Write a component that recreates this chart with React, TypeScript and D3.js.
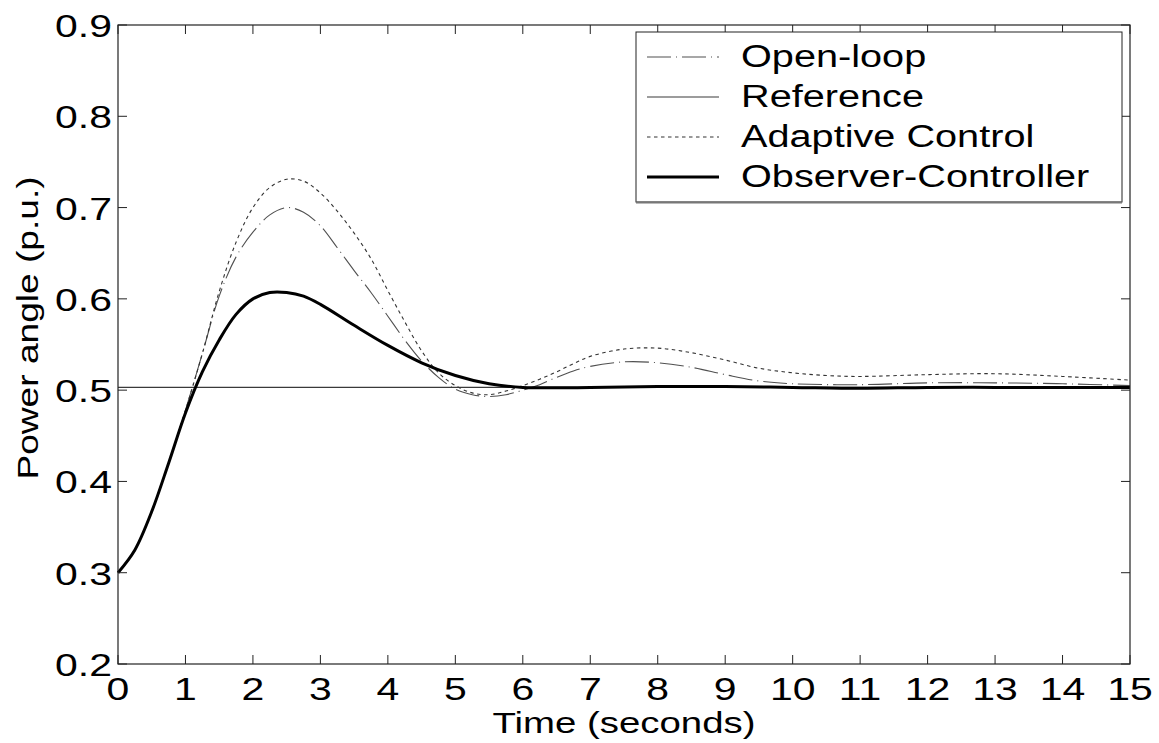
import React from "react";
import * as d3 from "d3";

const xTicks = [0, 1, 2, 3, 4, 5, 6, 7, 8, 9, 10, 11, 12, 13, 14, 15];
const yTicks = [0.2, 0.3, 0.4, 0.5, 0.6, 0.7, 0.8, 0.9];
const yTickLabels = ["0.2", "0.3", "0.4", "0.5", "0.6", "0.7", "0.8", "0.9"];

const obsT = [0, 0.25, 0.5, 0.75, 1.0, 1.25, 1.5, 1.75, 2.0, 2.25, 2.5, 2.75, 3.0, 3.5, 4.0, 4.5, 5.0, 5.5, 6.0, 7, 8, 9, 10, 11, 12, 13, 14, 15];
const obsV = [0.3, 0.325, 0.367, 0.42, 0.475, 0.52, 0.555, 0.583, 0.6, 0.607, 0.607, 0.603, 0.594, 0.571, 0.549, 0.53, 0.516, 0.507, 0.503, 0.503, 0.504, 0.504, 0.503, 0.502, 0.503, 0.503, 0.503, 0.503];

const openT = [0, 0.25, 0.5, 0.75, 1.0, 1.25, 1.5, 1.75, 2.0, 2.25, 2.5, 2.75, 3.0, 3.25, 3.5, 3.75, 4.0, 4.25, 4.5, 4.75, 5.0, 5.25, 5.5, 5.75, 6.0, 6.25, 6.5, 6.75, 7.0, 7.5, 8.0, 8.5, 9.0, 9.5, 10, 11, 12, 13, 14, 15];
const openV = [0.3, 0.325, 0.367, 0.42, 0.478, 0.54, 0.603, 0.646, 0.673, 0.692, 0.7, 0.695, 0.68, 0.656, 0.631, 0.607, 0.581, 0.555, 0.532, 0.514, 0.501, 0.495, 0.493, 0.495, 0.5, 0.506, 0.514, 0.521, 0.526, 0.531, 0.53, 0.525, 0.517, 0.51, 0.507, 0.506, 0.508, 0.508, 0.507, 0.505];

const adaptT = [0, 0.25, 0.5, 0.75, 1.0, 1.25, 1.5, 1.75, 2.0, 2.25, 2.5, 2.75, 3.0, 3.25, 3.5, 3.75, 4.0, 4.25, 4.5, 4.75, 5.0, 5.25, 5.5, 5.75, 6.0, 6.25, 6.5, 6.75, 7.0, 7.5, 8.0, 8.5, 9.0, 9.5, 10, 10.5, 11, 12, 13, 14, 15];
const adaptV = [0.3, 0.325, 0.367, 0.42, 0.478, 0.54, 0.608, 0.662, 0.7, 0.722, 0.731, 0.729, 0.716, 0.696, 0.672, 0.644, 0.609, 0.575, 0.543, 0.519, 0.505, 0.497, 0.495, 0.499, 0.505, 0.512, 0.52, 0.529, 0.537, 0.545, 0.546, 0.541, 0.533, 0.524, 0.519, 0.516, 0.515, 0.517, 0.518, 0.515, 0.511];

const refT = [0, 15];
const refV = [0.503, 0.503];

const legendLabels = ["Open-loop", "Reference", "Adaptive Control", "Observer-Controller"];

const W = 1159;
const H = 743;
const L = 118, R = 1130, T = 25, B = 664;
const SX = 1.28;
const FONT = "'Liberation Sans', Arial, Helvetica, sans-serif";

export default function App() {
  const x = d3.scaleLinear().domain([0, 15]).range([L, R]);
  const y = d3.scaleLinear().domain([0.2, 0.9]).range([B, T]);
  const mk = (ts: number[], vs: number[]) =>
    d3.line<number>().x((_, i) => x(ts[i])).y((v) => y(v)).curve(d3.curveCatmullRom.alpha(0.5))(vs) || "";

  const styles = [
    { stroke: "#505050", width: 1.1, dash: "24 5 1 5" },
    { stroke: "#3a3a3a", width: 1.1, dash: "" },
    { stroke: "#333", width: 1.1, dash: "3.5 3.5" },
    { stroke: "#000", width: 3, dash: "" },
  ];
  const series = [
    { t: openT, v: openV },
    { t: refT, v: refV },
    { t: adaptT, v: adaptV },
    { t: obsT, v: obsV },
  ];
  const tickLen = 9;
  const legBase = [67, 107, 147, 187];

  return (
    <svg width={W} height={H} style={{ position: "absolute", left: 0, top: 0, background: "#fff" }}>
      <rect x={0} y={0} width={W} height={H} fill="#fff" />
      {series.map((s, i) => (
        <path key={i} d={mk(s.t, s.v)} fill="none" stroke={styles[i].stroke}
          strokeWidth={styles[i].width} strokeDasharray={styles[i].dash || undefined} />
      ))}
      <rect x={L} y={T} width={R - L} height={B - T} fill="none" stroke="#222" strokeWidth={1.2} />
      {xTicks.map((t) => (
        <g key={"xt" + t}>
          <line x1={x(t)} x2={x(t)} y1={B} y2={B - tickLen} stroke="#222" />
          <line x1={x(t)} x2={x(t)} y1={T} y2={T + tickLen} stroke="#222" />
          <text transform={`translate(${x(t)},700) scale(${SX},1)`} textAnchor="middle"
            fontFamily={FONT} fontSize={32} fill="#000">{String(t)}</text>
        </g>
      ))}
      {yTicks.map((v, i) => (
        <g key={"yt" + v}>
          <line x1={L} x2={L + tickLen} y1={y(v)} y2={y(v)} stroke="#222" />
          <line x1={R} x2={R - tickLen} y1={y(v)} y2={y(v)} stroke="#222" />
          <text transform={`translate(112,${y(v) + 12}) scale(${SX},1)`} textAnchor="end"
            fontFamily={FONT} fontSize={32} fill="#000">{yTickLabels[i]}</text>
        </g>
      ))}
      <text transform={`translate(624,733) scale(${SX},1)`} textAnchor="middle"
        fontFamily={FONT} fontSize={30} fill="#000">Time (seconds)</text>
      <text transform={`translate(38,328) rotate(-90) scale(${SX},1)`} textAnchor="middle"
        fontFamily={FONT} fontSize={29} fill="#000">Power angle (p.u.)</text>
      <rect x={636} y={32} width={1122 - 636} height={202 - 32} fill="#fff" stroke="#222" strokeWidth={1} />
      <line x1={636} x2={1122} y1={202.5} y2={202.5} stroke="#777" strokeWidth={2} />
      {legendLabels.map((lab, i) => (
        <g key={lab}>
          <line x1={647} x2={719} y1={legBase[i] - 10} y2={legBase[i] - 10} stroke={styles[i].stroke}
            strokeWidth={styles[i].width} strokeDasharray={styles[i].dash || undefined} />
          <text transform={`translate(741,${legBase[i]}) scale(${SX},1)`} fontFamily={FONT}
            fontSize={31} fill="#000">{lab}</text>
        </g>
      ))}
    </svg>
  );
}
